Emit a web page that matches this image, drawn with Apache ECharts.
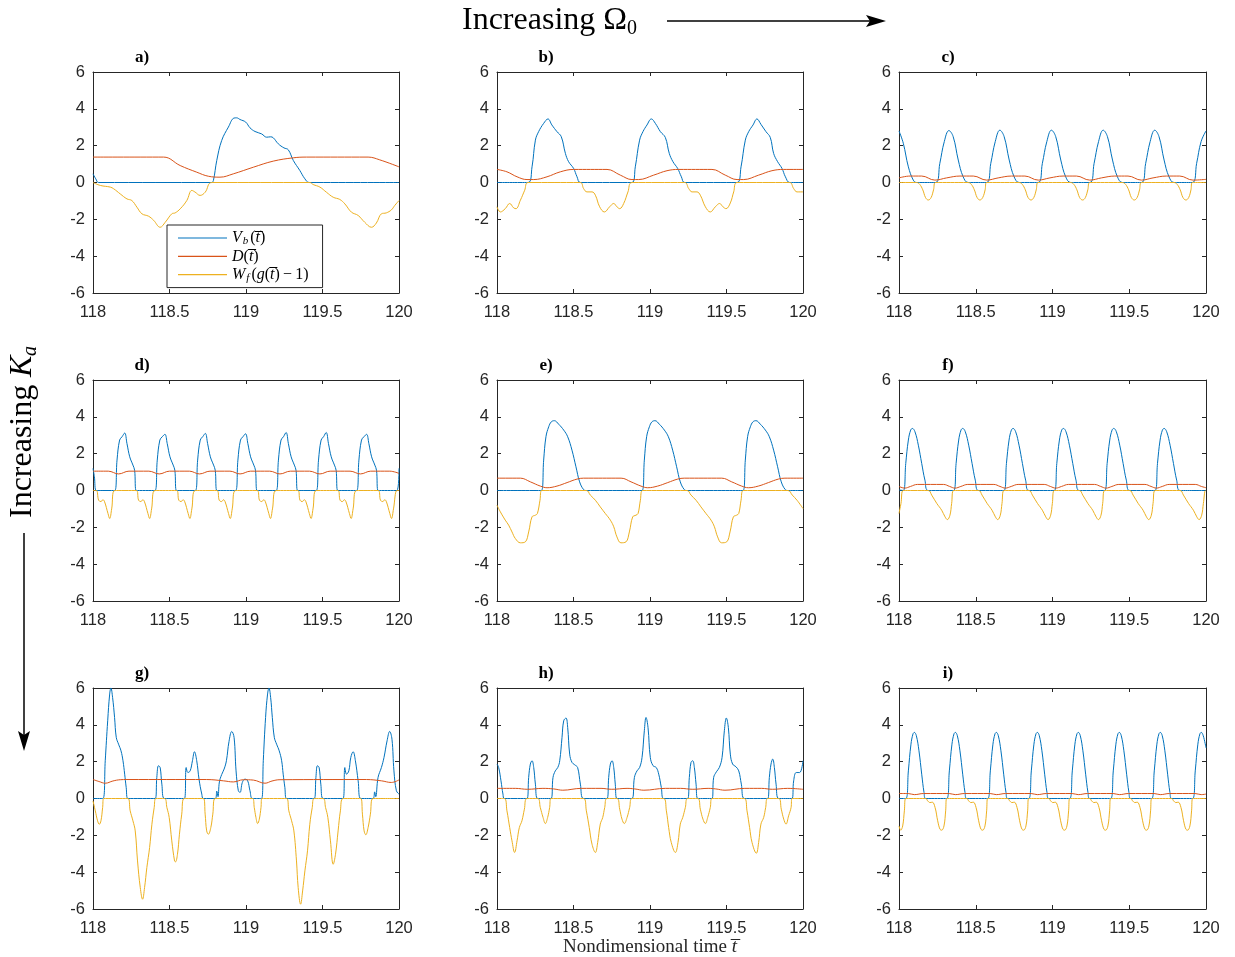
<!DOCTYPE html>
<html><head><meta charset="utf-8">
<script src="https://cdn.jsdelivr.net/npm/echarts@6/dist/echarts.min.js"></script>
<style>html,body{margin:0;padding:0;background:#fff}#c{width:1235px;height:957px}</style>
</head><body><div id="c"></div>
<script>
const panelLetters = ['a)','b)','c)','d)','e)','f)','g)','h)','i)'];
const xTicks = [118, 118.5, 119, 119.5, 120];
const yTicks = [-6, -4, -2, 0, 2, 4, 6];
const seriesNames = ['Vb', 'D', 'Wf'];

// panel a
const aVb = [[118,0.47],[118.018,0.2],[118.037,0],[118.776,0],[118.787,0.11],[118.809,1.2],[118.841,2.28],[118.885,3.01],[118.922,3.5],[118.939,3.51],[118.961,3.42],[118.998,3.28],[119.026,2.97],[119.059,2.77],[119.102,2.64],[119.135,2.46],[119.161,2.48],[119.178,2.43],[119.211,2.1],[119.248,1.88],[119.276,1.78],[119.309,1.2],[119.352,0.65],[119.385,0.2],[119.413,0],[120,0]];
const aD = [[118,1.38],[118.461,1.38],[118.57,0.92],[118.678,0.56],[118.754,0.34],[118.83,0.29],[118.917,0.47],[119.048,0.83],[119.178,1.16],[119.309,1.34],[119.396,1.38],[119.798,1.38],[119.874,1.23],[120,0.85]];
const aWf = [[118,0],[118.048,-0.16],[118.113,-0.25],[118.135,-0.34],[118.178,-0.62],[118.222,-0.89],[118.254,-0.98],[118.287,-1.34],[118.32,-1.7],[118.363,-1.83],[118.396,-2.05],[118.439,-2.43],[118.472,-2.16],[118.515,-1.7],[118.537,-1.65],[118.57,-1.43],[118.613,-0.98],[118.646,-0.43],[118.667,-0.52],[118.7,-0.7],[118.733,-0.53],[118.776,0],[119.417,0],[119.439,-0.11],[119.483,-0.25],[119.526,-0.53],[119.57,-0.8],[119.613,-0.92],[119.646,-1.16],[119.689,-1.61],[119.733,-1.79],[119.776,-2.16],[119.82,-2.43],[119.852,-2.2],[119.885,-1.7],[119.917,-1.65],[119.95,-1.49],[119.972,-1.25],[120,-0.98]];

// panel b
const bVb = [[118,0],[118.203,0],[118.229,0.85],[118.251,2.3],[118.272,2.76],[118.305,3.21],[118.333,3.45],[118.359,3.12],[118.392,2.76],[118.42,2.49],[118.447,1.58],[118.468,1.13],[118.501,0.76],[118.523,0.31],[118.545,0],[118.882,0],[118.904,0.85],[118.932,2.3],[118.954,2.76],[118.98,3.12],[119.009,3.45],[119.035,3.21],[119.068,2.76],[119.1,2.45],[119.126,1.58],[119.15,1.13],[119.181,0.76],[119.205,0.31],[119.227,0],[119.569,0],[119.595,0.85],[119.623,2.3],[119.645,2.76],[119.673,3.12],[119.699,3.45],[119.725,3.16],[119.758,2.76],[119.786,2.45],[119.808,1.58],[119.834,1.13],[119.863,0.76],[119.885,0.31],[119.913,0],[120,0]];
const bD = [[118,0.71],[118.065,0.58],[118.131,0.31],[118.196,0.16],[118.24,0.16],[118.327,0.31],[118.414,0.58],[118.501,0.71],[118.719,0.71],[118.806,0.4],[118.882,0.16],[118.926,0.16],[119.024,0.4],[119.111,0.64],[119.187,0.71],[119.405,0.71],[119.492,0.4],[119.569,0.16],[119.612,0.16],[119.71,0.4],[119.797,0.64],[119.874,0.71],[120,0.71]];
const bWf = [[118,-1.32],[118.022,-1.6],[118.054,-1.42],[118.083,-1.14],[118.109,-1.38],[118.124,-1.42],[118.153,-0.96],[118.181,-0.42],[118.203,0],[118.545,0],[118.566,-0.33],[118.588,-0.51],[118.621,-0.51],[118.643,-0.69],[118.671,-1.32],[118.702,-1.6],[118.736,-1.32],[118.763,-1.14],[118.784,-1.32],[118.802,-1.42],[118.828,-1.14],[118.856,-0.51],[118.882,0],[119.227,0],[119.253,-0.33],[119.275,-0.51],[119.307,-0.51],[119.329,-0.69],[119.362,-1.32],[119.394,-1.6],[119.427,-1.32],[119.455,-1.14],[119.477,-1.32],[119.497,-1.42],[119.525,-1.11],[119.547,-0.51],[119.569,0],[119.913,0],[119.939,-0.33],[119.961,-0.51],[120,-0.51]];

// panel c
const cVb = [[118,2.8],[118.028,2.13],[118.061,0.85],[118.093,0.13],[118.115,0],[118.238,0],[118.266,1.04],[118.295,2.22],[118.325,2.82],[118.353,2.49],[118.386,1.22],[118.418,0.31],[118.451,0],[118.57,0],[118.598,1.04],[118.627,2.22],[118.657,2.84],[118.685,2.49],[118.718,1.22],[118.75,0.31],[118.783,0],[118.906,0],[118.934,1.04],[118.963,2.22],[118.993,2.84],[119.021,2.49],[119.054,1.22],[119.086,0.31],[119.119,0],[119.243,0],[119.271,1.04],[119.3,2.22],[119.33,2.84],[119.358,2.49],[119.391,1.22],[119.423,0.31],[119.456,0],[119.579,0],[119.607,1.04],[119.636,2.22],[119.666,2.84],[119.694,2.49],[119.727,1.22],[119.759,0.31],[119.792,0],[119.911,0],[119.939,1.04],[119.968,2.22],[120,2.8]];
const cD = [[118,0.25],[118.072,0.35],[118.148,0.35],[118.234,0.13],[118.31,0.25],[118.397,0.35],[118.484,0.35],[118.571,0.13],[118.646,0.25],[118.733,0.35],[118.82,0.35],[118.907,0.13],[118.983,0.25],[119.069,0.35],[119.156,0.35],[119.243,0.13],[119.319,0.25],[119.406,0.35],[119.492,0.35],[119.579,0.13],[119.655,0.25],[119.742,0.35],[119.829,0.35],[119.915,0.13],[120,0.17]];
const cWf = [[118,0],[118.115,0],[118.135,-0.1],[118.155,-0.4],[118.173,-0.82],[118.191,-0.95],[118.209,-0.82],[118.225,-0.4],[118.238,0],[118.451,0],[118.471,-0.1],[118.491,-0.4],[118.509,-0.82],[118.527,-0.95],[118.545,-0.82],[118.561,-0.4],[118.57,0],[118.783,0],[118.803,-0.1],[118.823,-0.4],[118.841,-0.82],[118.86,-0.95],[118.878,-0.82],[118.894,-0.4],[118.906,0],[119.119,0],[119.139,-0.1],[119.159,-0.4],[119.177,-0.82],[119.196,-0.95],[119.214,-0.82],[119.23,-0.4],[119.243,0],[119.456,0],[119.476,-0.1],[119.496,-0.4],[119.514,-0.82],[119.533,-0.95],[119.551,-0.82],[119.567,-0.4],[119.579,0],[119.792,0],[119.812,-0.1],[119.832,-0.4],[119.85,-0.82],[119.869,-0.95],[119.887,-0.82],[119.902,-0.4],[119.911,0],[120,0]];

// panel d
const dVb = [[118,1.2],[118.009,0.75],[118.022,0],[118.142,0],[118.157,1.65],[118.174,2.74],[118.19,2.92],[118.207,3.12],[118.222,2.55],[118.24,1.83],[118.261,1.38],[118.272,1.1],[118.283,0],[118.405,0],[118.42,1.65],[118.437,2.74],[118.453,2.92],[118.47,3.05],[118.485,2.55],[118.503,1.83],[118.524,1.38],[118.535,1.1],[118.546,0],[118.669,0],[118.684,1.65],[118.701,2.74],[118.717,2.92],[118.734,3.1],[118.749,2.55],[118.767,1.83],[118.788,1.38],[118.799,1.1],[118.81,0],[118.932,0],[118.947,1.65],[118.964,2.74],[118.98,2.92],[118.997,3.08],[119.012,2.55],[119.03,1.83],[119.051,1.38],[119.062,1.1],[119.073,0],[119.197,0],[119.212,1.65],[119.229,2.74],[119.245,2.92],[119.262,3.15],[119.277,2.55],[119.295,1.83],[119.316,1.38],[119.327,1.1],[119.338,0],[119.459,0],[119.474,1.65],[119.491,2.74],[119.507,2.92],[119.524,3.15],[119.539,2.55],[119.557,1.83],[119.578,1.38],[119.589,1.1],[119.6,0],[119.723,0],[119.738,1.65],[119.755,2.74],[119.771,2.92],[119.788,3.05],[119.803,2.55],[119.821,1.83],[119.842,1.38],[119.853,1.1],[119.864,0],[119.986,0],[120,1.2]];
const dD = [[118,1.05],[118.1,1.05],[118.167,0.9],[118.235,1.05],[118.365,1.05],[118.433,0.9],[118.5,1.05],[118.63,1.05],[118.696,0.9],[118.765,1.05],[118.895,1.05],[118.961,0.9],[119.03,1.05],[119.155,1.05],[119.222,0.9],[119.29,1.05],[119.415,1.05],[119.483,0.9],[119.55,1.05],[119.68,1.05],[119.748,0.9],[119.815,1.05],[119.94,1.05],[120,0.93]];
const dWf = [[118,0],[118.022,0],[118.037,-0.53],[118.052,-0.6],[118.065,-0.5],[118.076,-0.62],[118.098,-1.25],[118.109,-1.52],[118.122,-1.0],[118.142,0],[118.283,0],[118.298,-0.53],[118.313,-0.6],[118.326,-0.5],[118.337,-0.62],[118.359,-1.25],[118.37,-1.52],[118.383,-1.0],[118.405,0],[118.546,0],[118.561,-0.53],[118.576,-0.6],[118.589,-0.5],[118.6,-0.62],[118.622,-1.25],[118.633,-1.52],[118.646,-1.0],[118.669,0],[118.81,0],[118.825,-0.53],[118.84,-0.6],[118.853,-0.5],[118.864,-0.62],[118.886,-1.25],[118.897,-1.52],[118.91,-1.0],[118.932,0],[119.073,0],[119.088,-0.53],[119.103,-0.6],[119.116,-0.5],[119.127,-0.62],[119.149,-1.25],[119.16,-1.52],[119.173,-1.0],[119.197,0],[119.338,0],[119.353,-0.53],[119.368,-0.6],[119.381,-0.5],[119.392,-0.62],[119.414,-1.25],[119.425,-1.52],[119.438,-1.0],[119.459,0],[119.6,0],[119.615,-0.53],[119.63,-0.6],[119.643,-0.5],[119.654,-0.62],[119.676,-1.25],[119.687,-1.52],[119.7,-1.0],[119.723,0],[119.864,0],[119.879,-0.53],[119.894,-0.6],[119.907,-0.5],[119.918,-0.62],[119.94,-1.25],[119.951,-1.52],[119.964,-1.0],[119.986,0],[120,0]];

// panel e
const eVb = [[118,0],[118.29,0],[118.305,1.65],[118.32,2.92],[118.338,3.46],[118.355,3.73],[118.375,3.79],[118.403,3.6],[118.436,3.28],[118.462,2.92],[118.49,2.19],[118.516,1.29],[118.54,0.47],[118.566,0.05],[118.584,0],[118.948,0],[118.963,1.65],[118.978,2.92],[118.996,3.46],[119.013,3.73],[119.033,3.79],[119.061,3.6],[119.094,3.28],[119.12,2.92],[119.148,2.19],[119.174,1.29],[119.198,0.47],[119.224,0.05],[119.242,0],[119.608,0],[119.623,1.65],[119.638,2.92],[119.656,3.46],[119.673,3.73],[119.693,3.79],[119.721,3.6],[119.754,3.28],[119.78,2.92],[119.808,2.19],[119.834,1.29],[119.858,0.47],[119.884,0.05],[119.902,0],[120,0]];
const eD = [[118,0.67],[118.153,0.67],[118.218,0.47],[118.283,0.24],[118.327,0.15],[118.392,0.24],[118.458,0.43],[118.523,0.62],[118.566,0.67],[118.811,0.67],[118.876,0.47],[118.941,0.24],[118.985,0.15],[119.05,0.24],[119.116,0.43],[119.181,0.62],[119.224,0.67],[119.469,0.67],[119.534,0.47],[119.599,0.24],[119.643,0.15],[119.708,0.24],[119.774,0.43],[119.839,0.62],[119.882,0.67],[120,0.67]];
const eWf = [[118,-0.8],[118.022,-1.16],[118.054,-1.61],[118.076,-1.88],[118.098,-2.25],[118.12,-2.61],[118.153,-2.84],[118.185,-2.79],[118.207,-2.25],[118.229,-1.43],[118.251,-1.34],[118.264,-1.25],[118.281,-0.53],[118.292,0],[118.584,0],[118.61,-0.25],[118.643,-0.53],[118.675,-0.89],[118.708,-1.25],[118.741,-1.61],[118.763,-1.97],[118.784,-2.52],[118.81,-2.84],[118.843,-2.79],[118.865,-2.25],[118.887,-1.43],[118.908,-1.34],[118.922,-1.25],[118.937,-0.53],[118.952,0],[119.242,0],[119.268,-0.25],[119.301,-0.53],[119.333,-0.89],[119.366,-1.25],[119.399,-1.61],[119.421,-1.97],[119.442,-2.52],[119.468,-2.84],[119.501,-2.79],[119.523,-2.25],[119.545,-1.43],[119.566,-1.34],[119.58,-1.25],[119.595,-0.53],[119.61,0],[119.902,0],[119.93,-0.25],[119.961,-0.53],[120,-0.98]];

// panel f
const fVb = [[118,0.03],[118.028,0],[118.044,1.47],[118.061,2.74],[118.076,3.28],[118.087,3.37],[118.104,3.19],[118.126,2.46],[118.148,1.47],[118.169,0.56],[118.191,0],[118.356,0],[118.372,1.47],[118.389,2.74],[118.404,3.28],[118.415,3.37],[118.432,3.19],[118.454,2.46],[118.476,1.47],[118.497,0.56],[118.519,0],[118.684,0],[118.7,1.47],[118.717,2.74],[118.732,3.28],[118.743,3.37],[118.76,3.19],[118.782,2.46],[118.804,1.47],[118.825,0.56],[118.847,0],[119.012,0],[119.028,1.47],[119.045,2.74],[119.06,3.28],[119.071,3.37],[119.088,3.19],[119.11,2.46],[119.132,1.47],[119.153,0.56],[119.175,0],[119.34,0],[119.356,1.47],[119.373,2.74],[119.388,3.28],[119.399,3.37],[119.416,3.19],[119.438,2.46],[119.46,1.47],[119.481,0.56],[119.503,0],[119.668,0],[119.684,1.47],[119.701,2.74],[119.716,3.28],[119.727,3.37],[119.744,3.19],[119.766,2.46],[119.788,1.47],[119.809,0.56],[119.831,0],[120,0]];
const fD = [[118,0.22],[118.037,0.13],[118.075,0.22],[118.12,0.33],[118.29,0.33],[118.33,0.22],[118.365,0.13],[118.403,0.22],[118.448,0.33],[118.618,0.33],[118.658,0.22],[118.693,0.13],[118.731,0.22],[118.776,0.33],[118.946,0.33],[118.986,0.22],[119.021,0.13],[119.059,0.22],[119.104,0.33],[119.274,0.33],[119.314,0.22],[119.349,0.13],[119.387,0.22],[119.432,0.33],[119.602,0.33],[119.642,0.22],[119.677,0.13],[119.715,0.22],[119.76,0.33],[119.93,0.33],[119.97,0.22],[120,0.15]];
const fWf = [[118,-1.25],[118.013,-0.7],[118.028,0],[118.191,0],[118.213,-0.25],[118.246,-0.7],[118.278,-1.07],[118.3,-1.43],[118.315,-1.58],[118.332,-1.34],[118.343,-0.7],[118.356,0],[118.519,0],[118.541,-0.25],[118.574,-0.7],[118.606,-1.07],[118.628,-1.43],[118.643,-1.58],[118.66,-1.34],[118.671,-0.7],[118.684,0],[118.847,0],[118.869,-0.25],[118.902,-0.7],[118.934,-1.07],[118.956,-1.43],[118.971,-1.58],[118.988,-1.34],[118.999,-0.7],[119.012,0],[119.175,0],[119.197,-0.25],[119.23,-0.7],[119.262,-1.07],[119.284,-1.43],[119.299,-1.58],[119.316,-1.34],[119.327,-0.7],[119.34,0],[119.503,0],[119.525,-0.25],[119.558,-0.7],[119.59,-1.07],[119.612,-1.43],[119.627,-1.58],[119.644,-1.34],[119.655,-0.7],[119.668,0],[119.831,0],[119.853,-0.25],[119.886,-0.7],[119.918,-1.07],[119.94,-1.43],[119.955,-1.58],[119.972,-1.34],[119.983,-0.7],[119.996,0],[120,0]];

// panel g
const gVb = [[118,0],[118.065,0],[118.08,2.05],[118.096,4.22],[118.109,5.67],[118.117,6.0],[118.128,5.49],[118.141,4.4],[118.152,3.32],[118.167,2.95],[118.183,2.59],[118.196,2.05],[118.207,1.32],[118.217,0.6],[118.228,0],[118.407,0],[118.417,1.14],[118.428,1.78],[118.439,1.68],[118.45,0.78],[118.467,0],[118.598,0],[118.609,1.68],[118.62,1.41],[118.635,1.5],[118.65,2.05],[118.663,2.54],[118.678,2.05],[118.693,1.05],[118.711,0.24],[118.722,0],[118.8,0],[118.809,0.4],[118.817,0.1],[118.826,0.9],[118.841,1.3],[118.857,1.6],[118.872,2.05],[118.889,3.1],[118.907,3.64],[118.922,3.32],[118.935,1.5],[118.95,0.42],[118.961,0.33],[118.976,0.87],[118.993,1.05],[119.011,0.96],[119.026,0.42],[119.043,0],[119.102,0],[119.113,2.05],[119.128,4.4],[119.141,5.67],[119.15,6.0],[119.161,5.49],[119.172,4.4],[119.185,3.32],[119.2,2.95],[119.217,2.59],[119.233,2.05],[119.243,1.32],[119.254,0.6],[119.265,0],[119.446,0],[119.457,1.14],[119.467,1.78],[119.478,1.68],[119.489,0.78],[119.504,0],[119.635,0],[119.646,1.68],[119.657,1.32],[119.672,1.5],[119.685,2.23],[119.7,2.54],[119.715,2.05],[119.733,0.96],[119.75,0],[119.83,0],[119.841,0.36],[119.848,0.1],[119.863,1.14],[119.885,1.68],[119.902,2.23],[119.922,3.13],[119.939,3.64],[119.954,3.22],[119.967,1.5],[119.983,0.42],[120,0.24]];
const gD = [[118,1.03],[118.04,0.92],[118.08,0.83],[118.13,0.95],[118.178,1.02],[118.222,1.03],[118.743,1.03],[118.852,0.96],[118.917,0.9],[118.983,1.02],[119.048,1.0],[119.124,0.83],[119.17,0.95],[119.222,1.02],[119.787,1.03],[119.885,0.96],[119.95,0.87],[120,1.01]];
const gWf = [[118,-0.13],[118.015,-0.67],[118.03,-1.21],[118.041,-1.4],[118.052,-1.21],[118.063,-0.49],[118.07,0],[118.228,0],[118.243,-0.67],[118.261,-1.21],[118.276,-1.76],[118.291,-3.39],[118.309,-4.84],[118.324,-5.47],[118.337,-4.84],[118.352,-3.75],[118.37,-2.66],[118.385,-1.4],[118.4,-0.49],[118.411,0],[118.467,0],[118.483,-0.49],[118.498,-1.03],[118.515,-2.3],[118.533,-3.39],[118.539,-3.44],[118.552,-3.03],[118.565,-1.94],[118.58,-0.85],[118.596,0],[118.722,0],[118.733,-0.85],[118.743,-1.76],[118.754,-1.94],[118.77,-1.58],[118.783,-0.85],[118.798,0],[119.043,0],[119.054,-0.49],[119.065,-1.03],[119.076,-1.36],[119.087,-1.12],[119.098,-0.49],[119.104,0],[119.265,0],[119.28,-0.67],[119.298,-1.21],[119.313,-1.76],[119.33,-3.39],[119.341,-4.84],[119.357,-5.74],[119.37,-5.02],[119.385,-3.93],[119.402,-2.84],[119.417,-1.4],[119.433,-0.49],[119.446,0],[119.504,0],[119.52,-0.49],[119.535,-1.03],[119.552,-2.3],[119.57,-3.57],[119.585,-3.03],[119.602,-1.76],[119.617,-0.67],[119.635,0],[119.75,0],[119.761,-0.85],[119.772,-1.76],[119.783,-1.97],[119.798,-1.58],[119.813,-0.85],[119.83,0],[120,0]];

// panel h
const hVb = [[118,1.87],[118.011,1.68],[118.026,0.96],[118.039,0.24],[118.048,0],[118.196,0],[118.207,1.14],[118.218,1.87],[118.229,2.05],[118.24,1.68],[118.251,0.78],[118.266,0],[118.353,0],[118.366,1.14],[118.381,1.5],[118.397,1.68],[118.41,2.05],[118.425,3.32],[118.436,4.22],[118.451,4.37],[118.462,3.86],[118.475,2.41],[118.49,1.96],[118.508,1.83],[118.527,1.68],[118.545,0.78],[118.566,0],[118.719,0],[118.73,1.14],[118.741,1.87],[118.752,2.05],[118.763,1.68],[118.773,0.78],[118.784,0],[118.882,0],[118.898,1.14],[118.915,1.5],[118.932,1.68],[118.948,2.23],[118.963,3.68],[118.974,4.4],[118.987,3.86],[119.002,2.23],[119.02,1.78],[119.041,1.68],[119.057,1.32],[119.074,0.6],[119.089,0],[119.246,0],[119.257,1.14],[119.268,1.96],[119.279,2.05],[119.29,1.68],[119.301,0.78],[119.312,0],[119.405,0],[119.416,1.14],[119.434,1.45],[119.453,1.68],[119.471,2.23],[119.486,3.68],[119.499,4.37],[119.512,3.86],[119.525,2.41],[119.54,1.87],[119.562,1.72],[119.58,1.5],[119.597,0.78],[119.617,0],[119.769,0],[119.78,1.14],[119.791,1.87],[119.802,2.14],[119.813,1.68],[119.824,0.78],[119.841,0],[119.928,0],[119.939,0.96],[119.956,1.41],[119.978,1.41],[120,2.05]];
const hD = [[118,0.55],[118.12,0.55],[118.2,0.5],[118.3,0.55],[118.37,0.52],[118.43,0.45],[118.55,0.55],[118.68,0.55],[118.75,0.5],[118.85,0.55],[118.9,0.52],[118.96,0.45],[119.1,0.55],[119.2,0.55],[119.28,0.5],[119.38,0.55],[119.43,0.52],[119.49,0.45],[119.62,0.55],[119.73,0.55],[119.8,0.5],[119.9,0.55],[120,0.5]];
const hWf = [[118,0],[118.048,0],[118.065,-0.67],[118.083,-1.58],[118.098,-2.3],[118.115,-2.93],[118.131,-2.3],[118.146,-1.58],[118.163,-1.21],[118.179,-0.58],[118.196,0],[118.266,0],[118.283,-0.49],[118.301,-1.03],[118.316,-1.36],[118.331,-1.03],[118.344,-0.49],[118.353,0],[118.566,0],[118.584,-0.67],[118.603,-1.58],[118.621,-2.48],[118.643,-2.93],[118.658,-2.39],[118.675,-1.39],[118.691,-1.03],[118.704,-0.49],[118.719,0],[118.784,0],[118.802,-0.58],[118.817,-1.12],[118.832,-1.36],[118.85,-1.03],[118.867,-0.49],[118.882,0],[119.089,0],[119.107,-0.67],[119.122,-1.58],[119.139,-2.39],[119.166,-2.93],[119.183,-2.39],[119.198,-1.39],[119.214,-1.03],[119.231,-0.49],[119.246,0],[119.312,0],[119.329,-0.58],[119.346,-1.12],[119.362,-1.36],[119.377,-1.03],[119.394,-0.49],[119.405,0],[119.617,0],[119.634,-0.67],[119.651,-1.58],[119.667,-2.39],[119.695,-2.97],[119.71,-2.39],[119.725,-1.39],[119.743,-1.03],[119.756,-0.49],[119.769,0],[119.841,0],[119.858,-0.58],[119.874,-1.12],[119.889,-1.39],[119.906,-0.94],[119.922,-0.49],[119.928,0],[120,0]];

// panel i
const iVb = [[118,0],[118.044,0],[118.061,1.5],[118.078,2.95],[118.091,3.5],[118.1,3.59],[118.113,3.41],[118.13,2.59],[118.148,1.32],[118.163,0.33],[118.174,0],[118.311,0],[118.328,1.5],[118.345,2.95],[118.358,3.5],[118.367,3.59],[118.38,3.41],[118.397,2.59],[118.415,1.32],[118.43,0.33],[118.441,0],[118.578,0],[118.595,1.5],[118.612,2.95],[118.625,3.5],[118.634,3.59],[118.647,3.41],[118.664,2.59],[118.682,1.32],[118.697,0.33],[118.708,0],[118.845,0],[118.862,1.5],[118.879,2.95],[118.892,3.5],[118.901,3.59],[118.914,3.41],[118.931,2.59],[118.949,1.32],[118.964,0.33],[118.975,0],[119.112,0],[119.129,1.5],[119.146,2.95],[119.159,3.5],[119.168,3.59],[119.181,3.41],[119.198,2.59],[119.216,1.32],[119.231,0.33],[119.242,0],[119.379,0],[119.396,1.5],[119.413,2.95],[119.426,3.5],[119.435,3.59],[119.448,3.41],[119.465,2.59],[119.483,1.32],[119.498,0.33],[119.509,0],[119.646,0],[119.663,1.5],[119.68,2.95],[119.693,3.5],[119.702,3.59],[119.715,3.41],[119.732,2.59],[119.75,1.32],[119.765,0.33],[119.776,0],[119.913,0],[119.93,1.5],[119.947,2.95],[119.96,3.5],[119.969,3.59],[119.982,3.41],[120,2.75]];
const iD = [[118,0.27],[118.06,0.27],[118.1,0.21],[118.16,0.27],[118.327,0.27],[118.367,0.21],[118.427,0.27],[118.594,0.27],[118.634,0.21],[118.694,0.27],[118.861,0.27],[118.901,0.21],[118.961,0.27],[119.128,0.27],[119.168,0.21],[119.228,0.27],[119.395,0.27],[119.435,0.21],[119.495,0.27],[119.662,0.27],[119.702,0.21],[119.762,0.27],[119.929,0.27],[119.969,0.21],[120,0.24]];
const iWf = [[118,-1.49],[118.011,-1.72],[118.024,-1.49],[118.035,-0.67],[118.044,0],[118.174,0],[118.187,-0.13],[118.202,-0.22],[118.217,-0.2],[118.235,-0.49],[118.252,-1.21],[118.267,-1.67],[118.278,-1.72],[118.293,-1.49],[118.304,-0.67],[118.311,0],[118.441,0],[118.454,-0.13],[118.469,-0.22],[118.484,-0.2],[118.502,-0.49],[118.519,-1.21],[118.534,-1.67],[118.545,-1.72],[118.56,-1.49],[118.571,-0.67],[118.578,0],[118.708,0],[118.721,-0.13],[118.736,-0.22],[118.751,-0.2],[118.769,-0.49],[118.786,-1.21],[118.801,-1.67],[118.812,-1.72],[118.827,-1.49],[118.838,-0.67],[118.845,0],[118.975,0],[118.988,-0.13],[119.003,-0.22],[119.018,-0.2],[119.036,-0.49],[119.053,-1.21],[119.068,-1.67],[119.079,-1.72],[119.094,-1.49],[119.105,-0.67],[119.112,0],[119.242,0],[119.255,-0.13],[119.27,-0.22],[119.285,-0.2],[119.303,-0.49],[119.32,-1.21],[119.335,-1.67],[119.346,-1.72],[119.361,-1.49],[119.372,-0.67],[119.379,0],[119.509,0],[119.522,-0.13],[119.537,-0.22],[119.552,-0.2],[119.57,-0.49],[119.587,-1.21],[119.602,-1.67],[119.613,-1.72],[119.628,-1.49],[119.639,-0.67],[119.646,0],[119.776,0],[119.789,-0.13],[119.804,-0.22],[119.819,-0.2],[119.837,-0.49],[119.854,-1.21],[119.869,-1.67],[119.88,-1.72],[119.895,-1.49],[119.906,-0.67],[119.913,0],[120,0]];

const panelData = [
  [aVb, aD, aWf], [bVb, bD, bWf], [cVb, cD, cWf],
  [dVb, dD, dWf], [eVb, eD, eWf], [fVb, fD, fWf],
  [gVb, gD, gWf], [hVb, hD, hWf], [iVb, iD, iWf]
];

const colors = ['#0072BD', '#D95319', '#EDB120'];
const lefts = [93, 497, 899];
const widths = [306, 306, 307];
const tops = [72, 380, 688];
const H = 221;
const axisColor = '#262626';
const tickFont = 'Liberation Sans, Arial, sans-serif';
const serif = 'Liberation Serif, Times New Roman, serif';

const grids = [], xAxes = [], yAxes = [], series = [], graphics = [];
const xMin = xTicks[0], xMax = xTicks[xTicks.length - 1];
const yMin = yTicks[0], yMax = yTicks[yTicks.length - 1];

for (let k = 0; k < 9; k++) {
  const r = Math.floor(k / 3), c = k % 3;
  grids.push({left: lefts[c], top: tops[r], width: widths[c], height: H});
}
function xAxis(k, top) {
  return {type: 'value', gridIndex: k, position: top ? 'top' : 'bottom', min: xMin, max: xMax, interval: 0.5,
    axisLine: {onZero: false, lineStyle: {color: axisColor, width: 1}},
    axisTick: {inside: true, length: 4, lineStyle: {color: axisColor}},
    splitLine: {show: false},
    axisLabel: {show: !top, color: axisColor, fontFamily: tickFont, fontSize: 16.5, margin: 11, showMinLabel: true, showMaxLabel: true}};
}
function yAxis(k, right) {
  return {type: 'value', gridIndex: k, position: right ? 'right' : 'left', min: yMin, max: yMax, interval: 2,
    axisLine: {onZero: false, lineStyle: {color: axisColor, width: 1}},
    axisTick: {inside: true, length: 4, lineStyle: {color: axisColor}},
    splitLine: {show: false},
    axisLabel: {show: !right, color: axisColor, fontFamily: tickFont, fontSize: 16.5, margin: 8}};
}
for (let k = 0; k < 9; k++) { xAxes.push(xAxis(k, false)); yAxes.push(yAxis(k, false)); }
for (let k = 0; k < 9; k++) { xAxes.push(xAxis(k, true)); yAxes.push(yAxis(k, true)); }

for (let k = 0; k < 9; k++) {
  for (let s = 0; s < 3; s++) {
    series.push({type: 'line', name: seriesNames[s], xAxisIndex: k, yAxisIndex: k,
      data: panelData[k][s], showSymbol: false, smooth: 0.4, animation: false,
      lineStyle: {color: colors[s], width: 1}, itemStyle: {color: colors[s]}, z: 2 + s});
  }
  const r = Math.floor(k / 3), c = k % 3;
  graphics.push({type: 'text', x: lefts[c] + 49, y: tops[r] - 14,
    style: {text: panelLetters[k], fontFamily: serif, fontWeight: 'bold', fontSize: 17, fill: '#000', align: 'center', verticalAlign: 'middle'}});
}

// figure annotations
graphics.push({type: 'text', x: 462, y: 21, style: {text: 'Increasing Ω', fontFamily: serif, fontSize: 32, fill: '#000', align: 'left', verticalAlign: 'middle'}});
graphics.push({type: 'text', x: 627, y: 29, style: {text: '0', fontFamily: serif, fontSize: 20, fill: '#000', align: 'left', verticalAlign: 'middle'}});
graphics.push({type: 'line', shape: {x1: 667, y1: 21, x2: 872, y2: 21}, style: {stroke: '#000', lineWidth: 1.5}});
graphics.push({type: 'polygon', shape: {points: [[866, 15], [886, 21], [866, 27], [870, 21]]}, style: {fill: '#000'}});

graphics.push({type: 'group', x: 23, y: 518, rotation: Math.PI / 2, children: [
  {type: 'text', x: 0, y: 0, style: {text: 'Increasing ', fontFamily: serif, fontSize: 32, fill: '#000', align: 'left', verticalAlign: 'middle'}},
  {type: 'text', x: 141, y: 0, style: {text: 'K', fontFamily: serif, fontStyle: 'italic', fontSize: 32, fill: '#000', align: 'left', verticalAlign: 'middle'}},
  {type: 'text', x: 162, y: 8, style: {text: 'a', fontFamily: serif, fontStyle: 'italic', fontSize: 20, fill: '#000', align: 'left', verticalAlign: 'middle'}}
]});
graphics.push({type: 'line', shape: {x1: 24, y1: 533, x2: 24, y2: 737}, style: {stroke: '#000', lineWidth: 1.5}});
graphics.push({type: 'polygon', shape: {points: [[18, 731], [24, 751], [30, 731], [24, 735]]}, style: {fill: '#000'}});

graphics.push({type: 'text', x: 650, y: 947, style: {
  text: '{n|Nondimensional time }{i|t\u0305}', align: 'center', verticalAlign: 'middle',
  rich: {n: {fontFamily: serif, fontSize: 19, fill: '#262626'}, i: {fontFamily: serif, fontStyle: 'italic', fontSize: 19, fill: '#262626'}}}});

const legendLabels = {
  Vb: '{i|V}{s|b}{n|(}{i|t\u0305}{n|)}',
  D: '{i|D}{n|(}{i|t\u0305}{n|)}',
  Wf: '{i|W}{s|f}{n|(}{i|g}{n|(}{i|t\u0305}{n|)\u2009\u2212\u20091)}'
};

const option = {
  backgroundColor: '#fff',
  animation: false,
  grid: grids, xAxis: xAxes, yAxis: yAxes, series: series,
  legend: {
    data: seriesNames, left: 167, top: 225, orient: 'vertical', icon: 'rect',
    itemWidth: 49, itemHeight: 1.2, itemGap: 0.3, padding: [4, 14, 4, 11],
    borderColor: axisColor, borderWidth: 1, backgroundColor: '#fff',
    selectedMode: false,
    formatter: n => legendLabels[n],
    textStyle: {color: '#000', fontFamily: serif, fontSize: 16, lineHeight: 18,
      rich: {
        i: {fontFamily: serif, fontStyle: 'italic', fontSize: 16, lineHeight: 18},
        n: {fontFamily: serif, fontSize: 16, lineHeight: 18},
        s: {fontFamily: serif, fontStyle: 'italic', fontSize: 11, lineHeight: 18, verticalAlign: 'bottom', padding: [0, 2, 0, 1]}
      }}
  },
  graphic: graphics
};
const chart = echarts.init(document.getElementById('c'), null, {renderer: 'canvas'});
chart.setOption(option);
</script></body></html>
